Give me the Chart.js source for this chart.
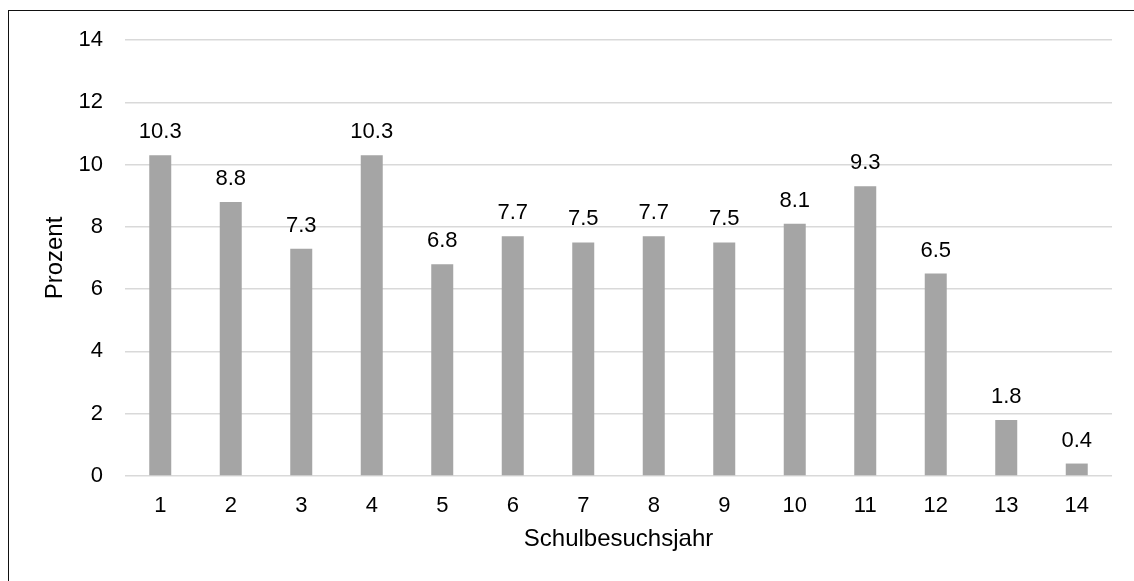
<!DOCTYPE html>
<html>
<head>
<meta charset="utf-8">
<script src="https://cdn.jsdelivr.net/npm/chart.js@4/dist/chart.umd.min.js"></script>
<style>
  html, body { margin: 0; padding: 0; background: #fff; }
  #wrap { position: relative; width: 1134px; height: 581px; overflow: hidden; }
  #frame {
    position: absolute; left: 8px; top: 10px; width: 1300px; height: 700px;
    border-left: 1px solid #111; border-top: 1px solid #111;
  }
  canvas { position: absolute; left: 0; top: 0; }
</style>
</head>
<body>
<div id="wrap">
  <div id="frame"></div>
  <canvas id="yearChart" width="1134" height="581"></canvas>
</div>
<script>
// school year vs. share in percent
const years = ['1', '2', '3', '4', '5', '6', '7', '8', '9', '10', '11', '12', '13', '14'];
const percent = [10.3, 8.8, 7.3, 10.3, 6.8, 7.7, 7.5, 7.7, 7.5, 8.1, 9.3, 6.5, 1.8, 0.4];
const yTicks = [0, 2, 4, 6, 8, 10, 12, 14];

const FAMILY = 'Arial, "Liberation Sans", sans-serif';
const FONT = { family: FAMILY, size: 22 };
const TITLE_FONT = { family: FAMILY, size: 24 };

// value labels above each bar
const valueLabels = {
  id: 'valueLabels',
  afterDatasetsDraw(chart) {
    const ctx = chart.ctx;
    const meta = chart.getDatasetMeta(0);
    ctx.save();
    ctx.font = `${FONT.size}px ${FONT.family}`;
    ctx.fillStyle = '#000';
    ctx.textAlign = 'center';
    ctx.textBaseline = 'alphabetic';
    meta.data.forEach((bar, i) => {
      ctx.fillText(percent[i].toFixed(1), bar.x, bar.y - 17);
    });
    ctx.restore();
  }
};

const ctx = document.getElementById('yearChart').getContext('2d');
new Chart(ctx, {
  type: 'bar',
  data: {
    labels: years,
    datasets: [{
      label: 'Prozent',
      data: percent,
      backgroundColor: '#a5a5a5',
      borderWidth: 0,
      barPercentage: 0.312,
      categoryPercentage: 1
    }]
  },
  options: {
    responsive: false,
    animation: false,
    layout: { padding: { left: 37, right: 22, top: 40, bottom: 23 } },
    scales: {
      x: {
        grid: { display: false, drawTicks: false },
        border: { display: false },
        ticks: { color: '#000', font: FONT, padding: 17, maxRotation: 0 },
        title: { display: true, text: 'Schulbesuchsjahr', color: '#000', font: TITLE_FONT, padding: 4 },
        afterFit(scale) { scale.height = 82; }
      },
      y: {
        min: 0,
        max: 14,
        afterBuildTicks(scale) { scale.ticks = yTicks.map(v => ({ value: v })); },
        grid: { color: '#d9d9d9', lineWidth: 1.5, drawTicks: false },
        border: { display: false },
        ticks: { color: '#000', font: FONT, padding: 22 },
        title: { display: true, text: 'Prozent', color: '#000', font: TITLE_FONT, padding: 4 },
        afterFit(scale) { scale.width = 88; }
      }
    },
    plugins: {
      legend: { display: false },
      tooltip: { enabled: false }
    }
  },
  plugins: [valueLabels]
});
</script>
</body>
</html>
